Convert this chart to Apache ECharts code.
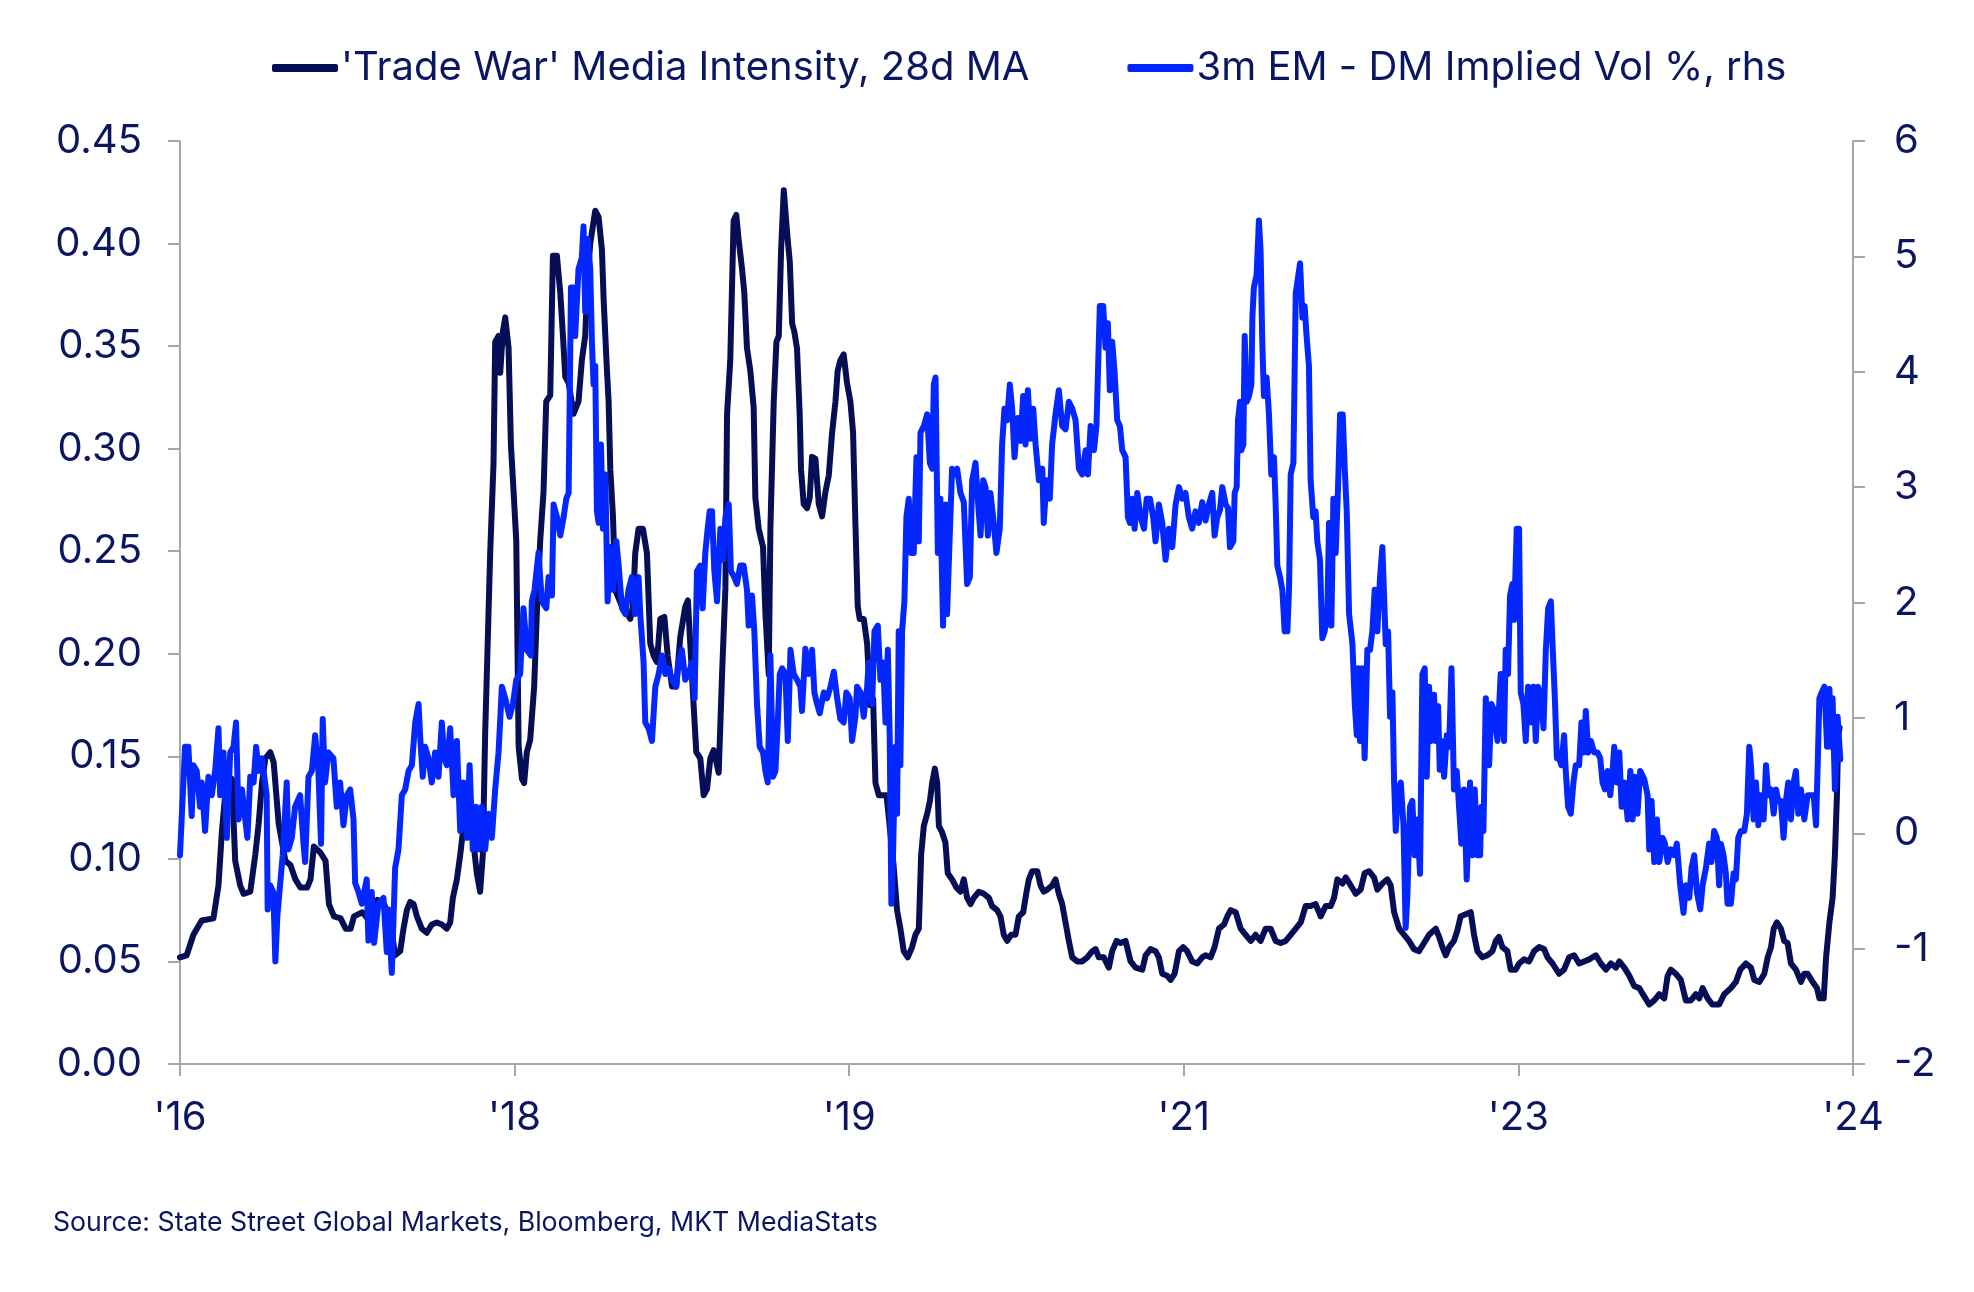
<!DOCTYPE html>
<html>
<head>
<meta charset="utf-8">
<script src="https://cdn.jsdelivr.net/npm/echarts@6/dist/echarts.min.js"></script>
<style>
  html, body { margin: 0; padding: 0; background: #ffffff; }
  #chart { width: 1974px; height: 1292px; }
</style>
</head>
<body>
<div id="chart"></div>
<script>
// ---- DATA ----
// x positions are months elapsed since 1 Aug 2016 (axis runs Aug 2016 -> Dec 2024)
const xTickLabels = ["'16", "'18", "'19", "'21", "'23", "'24"];
const seriesNames = ["'Trade War' Media Intensity, 28d MA", "3m EM - DM Implied Vol %, rhs"];

const tradeWarMonths = [
  0.0,0.4,0.8,1.3,2.0,2.3,2.5,2.7,3.1,3.3,3.6,3.8,4.2,4.5,4.7,4.9,5.1,5.4,5.6,5.9,6.3,6.6,6.9,7.2,7.6,7.8,8.0,8.4,8.7,8.9,9.2,9.6,9.9,10.2,10.4,10.9,11.2,11.8,12.2,12.56,
  12.86,13.16,13.36,13.56,13.76,13.96,14.16,14.45,14.75,15.05,15.35,15.65,15.95,16.15,16.31,16.55,16.75,16.95,17.15,17.54,17.74,17.94,18.10,18.24,18.34,18.54,18.74,18.84,19.04,19.14,19.30,19.44,19.64,19.78,19.94,20.10,20.24,20.44,20.57,20.73,20.93,21.17,21.33,21.53,21.73,21.89,22.13,22.29,22.53,22.73,22.89,23.03,23.23,23.52,23.82,24.02,24.22,24.36,24.52,24.82,25.02,
  25.22,25.32,25.52,25.62,25.72,25.88,26.02,26.42,26.71,26.91,27.07,27.21,27.41,27.67,27.91,28.11,28.31,28.51,28.71,28.95,29.15,29.41,29.66,29.90,30.20,30.36,30.50,30.70,30.86,31.10,31.30,31.50,31.70,31.90,32.20,32.40,32.60,32.70,32.89,33.09,33.25,33.39,33.59,33.73,33.89,34.09,34.29,34.39,34.59,34.85,34.99,35.19,35.29,35.49,35.65,35.79,35.93,36.09,36.29,36.45,36.59,36.72,36.88,37.04,37.12,
  37.28,37.48,37.64,37.78,37.98,38.18,38.38,38.58,38.78,38.98,39.18,39.31,39.47,39.67,39.87,40.07,40.23,40.37,40.51,40.63,40.87,41.07,41.27,41.43,41.57,41.77,42.03,42.23,42.42,42.66,42.86,43.06,43.26,43.50,43.76,43.96,44.16,44.30,44.46,44.66,44.82,44.96,45.12,45.26,45.36,45.55,45.75,45.89,46.15,46.41,46.65,46.85,47.05,47.25,47.45,47.75,48.05,48.35,48.54,48.84,49.04,49.24,49.44,49.68,
  49.94,50.14,50.40,50.60,50.74,50.94,51.24,51.44,51.63,51.83,52.13,52.33,52.53,52.73,52.93,53.13,53.33,53.63,53.93,54.23,54.53,54.73,54.92,55.22,55.52,55.72,55.98,56.22,56.52,56.82,57.12,57.52,57.72,58.01,58.31,58.51,58.71,59.01,59.21,59.45,59.71,59.96,60.20,60.50,60.80,61.10,61.30,61.60,61.84,62.10,
  62.40,62.60,62.80,63.10,63.40,63.70,64.00,64.29,64.59,64.89,65.19,65.49,65.79,66.09,66.39,66.69,66.99,67.28,67.58,67.88,68.18,68.48,68.78,68.98,69.18,69.48,69.68,69.98,70.28,70.57,70.81,71.07,71.37,71.57,71.87,72.17,72.37,72.57,72.87,73.17,73.46,73.76,74.06,74.36,74.66,75.06,
  75.26,75.46,75.66,75.86,76.15,76.35,76.55,76.85,77.15,77.35,77.55,77.85,78.15,78.45,78.65,78.84,79.04,79.34,79.54,79.84,80.04,80.34,80.64,80.94,81.24,81.54,81.74,82.04,82.43,82.73,83.03,83.33,83.63,83.93,84.23,84.63,84.93,85.23,85.53,85.83,86.03,86.33,86.63,86.92,87.22,87.52,87.82,
  88.12,88.42,88.72,88.92,89.11,89.41,89.71,90.01,90.31,90.61,90.81,91.01,91.31,91.60,92.00,92.30,92.70,93.00,93.26,93.60,93.90,94.10,94.40,94.70,94.90,95.10,95.26,95.45,95.69,95.89,96.09,96.29,96.59,96.89,97.09,97.29,97.59,97.85,97.99,98.25,98.39,98.59,98.78,98.92,99.04,99.12,99.20
];
const tradeWarValues = [
  0.052,0.053,0.063,0.070,0.071,0.087,0.113,0.131,0.139,0.099,0.087,0.083,0.084,0.102,0.117,0.137,0.149,0.152,0.147,0.117,0.099,0.097,0.090,0.086,0.086,0.090,0.106,0.103,0.099,0.078,0.072,0.071,0.066,0.066,0.072,0.074,0.071,0.080,0.078,0.070,
  0.053,0.055,0.066,0.075,0.079,0.078,0.072,0.066,0.064,0.068,0.069,0.068,0.066,0.069,0.081,0.090,0.102,0.116,0.122,0.108,0.093,0.084,0.102,0.161,0.190,0.249,0.293,0.352,0.355,0.337,0.357,0.364,0.349,0.302,0.279,0.255,0.155,0.139,0.137,0.152,0.158,0.184,0.220,0.255,0.279,0.323,0.326,0.394,0.394,0.376,0.355,0.335,0.332,0.317,0.323,0.343,0.355,0.382,0.400,0.416,0.413,
  0.397,0.373,0.338,0.323,0.290,0.267,0.231,0.223,0.220,0.217,0.223,0.249,0.261,0.261,0.249,0.205,0.199,0.196,0.217,0.218,0.199,0.184,0.184,0.208,0.223,0.226,0.205,0.175,0.152,0.149,0.131,0.134,0.149,0.153,0.142,0.190,0.232,0.317,0.343,0.411,0.414,0.402,0.388,0.376,0.349,0.338,0.320,0.276,0.261,0.252,0.220,0.190,0.261,0.323,0.352,0.355,0.397,0.426,0.405,0.391,0.361,0.357,0.349,0.317,0.290,
  0.273,0.271,0.276,0.296,0.295,0.273,0.267,0.279,0.287,0.308,0.323,0.338,0.343,0.346,0.332,0.323,0.308,0.264,0.223,0.217,0.217,0.205,0.175,0.178,0.137,0.131,0.131,0.131,0.116,0.096,0.075,0.066,0.055,0.052,0.057,0.063,0.066,0.102,0.116,0.122,0.128,0.137,0.144,0.137,0.116,0.113,0.108,0.093,0.090,0.086,0.084,0.090,0.081,0.078,0.081,0.084,0.083,0.081,0.077,0.075,0.072,0.063,0.060,0.063,
  0.063,0.072,0.074,0.084,0.090,0.094,0.094,0.087,0.084,0.085,0.087,0.090,0.083,0.078,0.069,0.060,0.052,0.050,0.050,0.052,0.055,0.056,0.052,0.052,0.047,0.055,0.060,0.059,0.060,0.050,0.047,0.046,0.053,0.056,0.055,0.052,0.044,0.043,0.041,0.044,0.055,0.057,0.055,0.050,0.049,0.052,0.053,0.052,0.057,0.066,
  0.068,0.072,0.075,0.074,0.066,0.063,0.060,0.063,0.060,0.066,0.066,0.060,0.059,0.060,0.063,0.066,0.069,0.077,0.077,0.078,0.072,0.077,0.077,0.081,0.090,0.088,0.091,0.087,0.083,0.085,0.093,0.094,0.091,0.085,0.088,0.090,0.087,0.074,0.066,0.063,0.060,0.056,0.055,0.059,0.063,0.066,
  0.062,0.057,0.053,0.057,0.060,0.065,0.072,0.073,0.074,0.063,0.055,0.052,0.053,0.055,0.060,0.062,0.057,0.055,0.046,0.046,0.049,0.051,0.050,0.055,0.057,0.056,0.052,0.049,0.044,0.046,0.052,0.053,0.049,0.050,0.051,0.053,0.049,0.046,0.049,0.047,0.050,0.047,0.043,0.038,0.037,0.033,0.029,
  0.031,0.034,0.032,0.043,0.046,0.044,0.041,0.031,0.031,0.034,0.032,0.037,0.032,0.029,0.029,0.034,0.037,0.040,0.046,0.049,0.047,0.041,0.040,0.044,0.052,0.057,0.066,0.069,0.066,0.060,0.059,0.049,0.046,0.040,0.044,0.044,0.040,0.037,0.032,0.032,0.052,0.069,0.081,0.102,0.131,0.161,0.164
];

const impliedVolMonths = [
  0.0,0.3,0.5,0.7,0.8,1.0,1.2,1.3,1.5,1.7,1.9,2.1,2.3,2.4,2.6,2.8,3.0,3.2,3.35,3.5,3.7,3.9,4.03,4.2,4.4,4.55,4.7,4.9,5.18,5.24,5.38,5.58,5.7,5.82,5.98,6.14,6.38,6.48,6.68,6.88,7.18,7.38,7.48,7.68,7.88,8.08,8.27,8.43,8.53,8.67,8.87,9.17,9.37,9.57,9.77,9.97,10.17,10.37,10.47,10.67,10.87,11.16,11.26,11.46,11.6,11.86,
  12.16,12.36,12.46,12.66,12.86,13.06,13.26,13.46,13.66,13.86,14.06,14.26,14.35,14.51,14.65,14.85,15.05,15.25,15.45,15.65,15.79,15.95,16.15,16.35,16.55,16.75,16.95,17.15,17.31,17.5,17.7,17.84,18.04,18.24,18.44,18.64,18.84,19.04,19.24,19.44,19.7,19.9,20.1,20.33,20.53,20.73,20.97,21.03,21.19,21.43,21.63,21.89,22.03,22.23,22.33,22.53,22.73,22.93,23.09,23.23,23.37,23.52,23.62,23.82,24.02,24.12,24.22,24.36,
  24.52,24.62,24.72,24.82,24.92,25.02,25.16,25.28,25.42,25.56,25.72,25.88,26.08,26.22,26.42,26.62,26.81,27.01,27.21,27.41,27.51,27.71,27.81,28.01,28.21,28.41,28.61,28.81,29.01,29.21,29.41,29.66,29.8,30.0,30.2,30.4,30.6,30.76,30.9,31.1,31.24,31.4,31.54,31.66,31.8,31.94,32.1,32.3,32.46,32.6,32.8,32.93,33.13,33.29,33.49,33.69,33.89,33.99,34.19,34.33,34.49,34.65,34.85,34.99,35.13,35.29,35.45,35.59,35.73,35.85,35.99,36.19,36.33,36.49,36.68,36.88,37.08,
  37.18,37.38,37.58,37.78,37.92,38.08,38.24,38.48,38.68,38.88,39.08,39.28,39.47,39.67,39.83,40.03,40.17,40.37,40.47,40.67,40.87,41.07,41.17,41.37,41.51,41.71,41.87,42.03,42.17,42.31,42.42,42.52,42.62,42.76,42.86,42.96,43.06,43.16,43.3,43.42,43.56,43.7,43.86,44.02,44.16,44.26,44.46,44.66,44.82,44.96,45.06,45.16,45.3,45.45,45.61,45.77,45.85,46.01,46.15,46.29,46.45,46.65,46.85,47.05,47.21,47.35,47.55,47.71,47.85,48.01,48.15,48.29,48.44,48.64,48.8,49.0,49.14,49.28,49.44,49.6,49.74,49.88,
  50.08,50.24,50.4,50.54,50.68,50.84,51.0,51.14,51.34,51.54,51.63,51.79,51.99,52.13,52.33,52.53,52.73,52.93,53.13,53.33,53.53,53.73,53.93,54.13,54.27,54.43,54.63,54.78,54.98,55.18,55.32,55.46,55.58,55.72,55.86,56.02,56.18,56.32,56.52,56.66,56.78,56.92,57.06,57.22,57.42,57.62,57.78,57.98,58.17,58.31,58.51,58.71,58.91,59.11,59.31,59.51,59.71,59.91,60.1,60.3,60.5,60.7,60.9,61.1,61.3,61.5,61.7,61.84,62.0,62.16,
  62.3,62.5,62.64,62.76,62.96,63.04,63.16,63.24,63.36,63.44,63.56,63.64,63.76,63.9,64.04,64.1,64.19,64.35,64.49,64.59,64.69,64.79,64.95,65.09,65.23,65.39,65.49,65.59,65.75,65.89,66.03,66.19,66.29,66.39,66.55,66.69,66.85,66.95,67.09,67.22,67.34,67.48,67.58,67.74,67.88,67.98,68.14,68.28,68.42,68.58,68.68,68.82,68.94,69.08,69.22,69.34,69.5,69.62,69.74,69.88,70.08,70.22,70.34,70.42,70.53,70.67,70.81,70.97,71.13,71.27,71.41,71.57,71.73,71.87,71.97,72.07,72.21,72.33,72.47,72.57,72.67,72.81,72.97,73.13,73.26,73.36,73.52,73.66,73.8,73.96,74.12,74.26,74.4,74.52,74.66,74.8,
  74.96,75.06,75.2,75.3,75.4,75.56,75.72,75.86,76.0,76.15,76.31,76.41,76.59,76.75,76.91,77.11,77.25,77.39,77.55,77.71,77.79,77.91,78.05,78.25,78.39,78.55,78.75,78.94,79.14,79.24,79.38,79.5,79.64,79.74,79.9,80.04,80.14,80.3,80.44,80.58,80.74,80.9,81.04,81.18,81.34,81.5,81.64,81.78,81.94,82.04,82.18,82.3,82.43,82.57,82.73,82.83,82.97,83.13,83.29,83.43,83.63,83.77,83.89,84.03,84.17,84.33,84.53,84.73,84.89,85.03,85.17,85.33,85.49,85.63,85.73,85.89,86.03,86.17,86.33,86.53,86.69,86.83,86.96,87.12,87.28,
  87.52,87.72,87.82,87.96,88.12,88.28,88.42,88.62,88.76,88.92,89.11,89.31,89.47,89.67,89.87,90.01,90.21,90.35,90.51,90.67,90.87,91.01,91.21,91.4,91.54,91.7,91.86,92.0,92.1,92.26,92.4,92.5,92.7,92.86,93.0,93.14,93.3,93.5,93.66,93.8,93.9,94.06,94.2,94.34,94.5,94.66,94.8,94.94,95.1,95.26,95.4,95.53,95.69,95.85,95.99,96.13,96.29,96.45,96.59,96.73,96.89,97.09,97.29,97.49,97.65,97.79,97.89,97.99,98.13,98.29,98.45,98.59,98.68,98.78,98.92,99.08,99.24
];
const impliedVolValues = [
  -0.19,0.75,0.75,0.15,0.59,0.54,0.23,0.44,0.02,0.49,0.33,0.54,0.91,0.33,0.70,-0.04,0.70,0.75,0.96,0.12,0.38,0.12,-0.04,0.49,0.44,0.75,0.54,0.65,0.33,-0.66,-0.45,-0.51,-1.11,-0.72,-0.45,-0.19,0.44,-0.14,-0.04,0.23,0.33,-0.09,-0.25,0.49,0.54,0.85,0.54,-0.09,0.99,0.44,0.70,0.65,0.23,0.44,0.07,0.33,0.38,0.12,-0.43,-0.51,-0.61,-0.40,-0.93,-0.51,-0.95,-0.61,
  -0.56,-1.03,-0.66,-1.21,-0.30,-0.14,0.33,0.38,0.54,0.59,0.96,1.12,0.85,0.49,0.75,0.65,0.44,0.70,0.49,0.96,0.65,0.59,0.91,0.33,0.80,0.02,0.44,-0.04,0.59,-0.14,0.23,-0.14,0.23,-0.14,0.17,-0.04,0.38,0.70,1.27,1.17,1.01,1.12,1.33,1.38,1.95,1.59,1.54,2.01,2.11,2.43,2.01,1.95,2.22,2.06,2.85,2.74,2.58,2.74,2.90,2.95,4.73,4.73,4.31,4.89,4.99,5.26,4.52,5.15,
  4.90,4.26,3.89,4.05,2.79,2.69,3.37,2.64,3.11,2.01,2.48,2.11,2.53,2.32,1.95,1.90,2.11,2.22,1.90,2.22,1.90,1.48,0.96,0.91,0.80,1.27,1.38,1.54,1.38,1.43,1.33,1.27,1.48,1.59,1.33,1.38,1.48,1.17,2.27,2.32,1.95,2.43,2.64,2.79,2.79,2.27,2.01,2.64,2.37,2.74,2.85,2.27,2.22,2.16,2.32,2.32,2.11,1.80,2.06,1.75,1.12,0.75,0.70,0.54,0.44,1.54,0.49,0.54,0.96,1.38,1.43,1.38,0.80,1.59,1.38,1.33,1.27,
  1.06,1.60,1.38,1.59,1.22,1.12,1.04,1.22,1.17,1.27,1.40,1.17,0.99,0.96,1.22,1.17,0.80,1.01,1.27,1.22,1.01,1.27,1.48,1.12,1.75,1.80,1.33,1.48,0.96,1.59,0.85,-0.61,-0.19,0.75,0.17,1.75,0.59,1.75,2.01,2.74,2.90,2.43,2.43,3.26,2.53,3.47,3.53,3.63,3.21,3.16,3.89,3.95,2.43,2.90,1.80,2.85,1.90,2.58,3.16,3.11,3.16,2.95,2.87,2.16,2.22,3.06,3.21,2.85,2.58,3.06,3.00,2.58,2.95,2.69,2.43,2.64,3.37,3.68,3.58,3.89,3.68,3.26,
  3.60,3.40,3.79,3.37,3.84,3.42,3.68,3.37,3.06,3.16,2.69,3.06,2.90,3.37,3.63,3.84,3.53,3.50,3.74,3.68,3.58,3.16,3.11,3.32,3.11,3.53,3.32,3.53,4.57,4.57,4.21,4.42,3.84,4.26,4.00,3.58,3.53,3.32,3.26,2.74,2.69,2.90,2.64,2.95,2.74,2.64,2.90,2.90,2.74,2.53,2.85,2.69,2.37,2.64,2.48,2.85,3.00,2.90,2.95,2.74,2.64,2.79,2.69,2.87,2.71,2.85,2.95,2.58,2.74,2.80,
  3.00,2.85,2.82,2.48,2.53,2.95,3.00,3.58,3.74,3.32,3.37,4.31,3.74,3.79,3.89,4.47,4.73,4.84,5.31,5.05,4.26,3.79,3.95,3.63,3.11,3.26,2.85,2.32,2.22,2.11,1.75,1.75,2.11,3.11,3.21,4.68,4.84,4.94,4.47,4.57,4.31,4.05,3.06,2.74,2.79,2.53,2.37,1.69,1.75,1.90,2.69,1.80,2.90,2.43,3.00,3.63,3.63,3.16,2.79,1.90,1.64,1.12,0.85,1.43,0.80,1.43,0.65,1.59,1.59,1.75,2.11,1.75,2.22,2.48,2.48,1.64,1.75,1.01,1.22,0.44,0.02,0.38,0.44,0.07,-0.82,-0.56,0.23,0.28,-0.19,0.12,-0.35,1.38,1.43,0.49,1.27,0.80,
  1.20,0.80,1.10,0.55,0.80,0.49,0.85,0.75,1.43,0.38,0.54,0.33,-0.09,0.38,-0.40,0.44,-0.19,0.38,-0.19,-0.19,0.23,0.02,1.17,0.59,1.12,1.06,0.80,1.38,0.80,1.59,1.38,2.06,2.16,1.85,2.64,2.64,1.22,1.12,0.80,1.27,0.96,1.27,0.80,1.27,1.17,0.91,1.59,1.95,2.01,1.64,1.17,0.65,0.65,0.59,0.85,0.54,0.23,0.17,0.44,0.59,0.59,0.96,0.70,1.06,0.70,0.80,0.70,0.70,0.65,0.44,0.38,0.54,0.33,0.54,0.75,0.44,0.70,0.23,0.44,0.12,0.54,0.12,0.49,0.17,0.54,
  0.47,0.33,-0.14,0.28,-0.25,0.12,-0.25,-0.04,-0.09,-0.25,-0.14,-0.19,-0.09,-0.45,-0.69,-0.45,-0.56,-0.30,-0.19,-0.51,-0.66,-0.45,-0.30,-0.09,-0.25,0.02,-0.04,-0.45,-0.09,-0.19,-0.35,-0.61,-0.61,-0.35,-0.40,-0.04,0.02,0.02,0.17,0.75,0.59,0.12,0.44,0.07,0.33,0.12,0.59,0.33,0.38,0.17,0.38,0.28,0.28,-0.04,0.28,0.44,0.12,0.44,0.54,0.17,0.38,0.12,0.33,0.33,0.33,0.07,0.59,1.17,1.22,1.27,0.75,1.25,0.75,1.17,0.38,1.01,0.64
];

// ---- CHART ----
const navyText = '#0b1660';
const axisGray = '#a6a6a6';
const darkLine = '#060f55';
const blueLine = '#0527ff';
const FONT = 'Inter, "Noto Sans", sans-serif';

const tradeWarData = tradeWarMonths.map((m, i) => [m, tradeWarValues[i]]);
const volData = impliedVolMonths.map((m, i) => [m, impliedVolValues[i]]);

const chart = echarts.init(document.getElementById('chart'), null, { renderer: 'canvas' });
chart.setOption({
  animation: false,
  backgroundColor: '#ffffff',
  textStyle: { fontFamily: FONT, color: navyText },
  grid: { left: 180, right: 121, top: 141, bottom: 228, containLabel: false },
  legend: {
    left: 267, top: 43,
    itemWidth: 66, itemHeight: 8, itemGap: 98,
    icon: 'roundRect',
    textStyle: { fontFamily: FONT, fontSize: 40, color: navyText, padding: [0, 0, 0, -2] },
    data: [
      { name: seriesNames[0], itemStyle: { color: darkLine } },
      { name: seriesNames[1], itemStyle: { color: blueLine } }
    ]
  },
  xAxis: {
    type: 'value', min: 0, max: 100, interval: 20,
    axisLine: { show: true, lineStyle: { color: axisGray, width: 2 } },
    axisTick: { show: true, length: 12, lineStyle: { color: axisGray, width: 2 } },
    splitLine: { show: false },
    axisLabel: {
      margin: 34, fontFamily: FONT, fontSize: 40, color: navyText,
      formatter: v => xTickLabels[Math.round(v / 20)] || ''
    }
  },
  yAxis: [
    {
      type: 'value', min: 0, max: 0.45, interval: 0.05, position: 'left',
      axisLine: { show: true, lineStyle: { color: axisGray, width: 2 } },
      axisTick: { show: true, length: 12, lineStyle: { color: axisGray, width: 2 } },
      splitLine: { show: false },
      axisLabel: { margin: 38, fontFamily: FONT, fontSize: 40, color: navyText, formatter: v => v.toFixed(2) }
    },
    {
      type: 'value', min: -2, max: 6, interval: 1, position: 'right',
      axisLine: { show: true, lineStyle: { color: axisGray, width: 2 } },
      axisTick: { show: true, length: 12, lineStyle: { color: axisGray, width: 2 } },
      splitLine: { show: false },
      axisLabel: { margin: 41, align: 'left', fontFamily: FONT, fontSize: 40, color: navyText, formatter: v => String(v) }
    }
  ],
  series: [
    {
      name: seriesNames[0], type: 'line', yAxisIndex: 0, data: tradeWarData,
      showSymbol: false, symbol: 'none', smooth: false,
      lineStyle: { color: darkLine, width: 6, cap: 'round', join: 'round' },
      itemStyle: { color: darkLine }, z: 2
    },
    {
      name: seriesNames[1], type: 'line', yAxisIndex: 1, data: volData,
      showSymbol: false, symbol: 'none', smooth: false,
      lineStyle: { color: blueLine, width: 6, cap: 'round', join: 'round' },
      itemStyle: { color: blueLine }, z: 3
    }
  ],
  graphic: [
    {
      type: 'text', left: 53, top: 1209,
      style: { text: 'Source: State Street Global Markets, Bloomberg, MKT MediaStats', fontFamily: FONT, fontSize: 26.7, fill: navyText }
    }
  ]
});
</script>
</body>
</html>
